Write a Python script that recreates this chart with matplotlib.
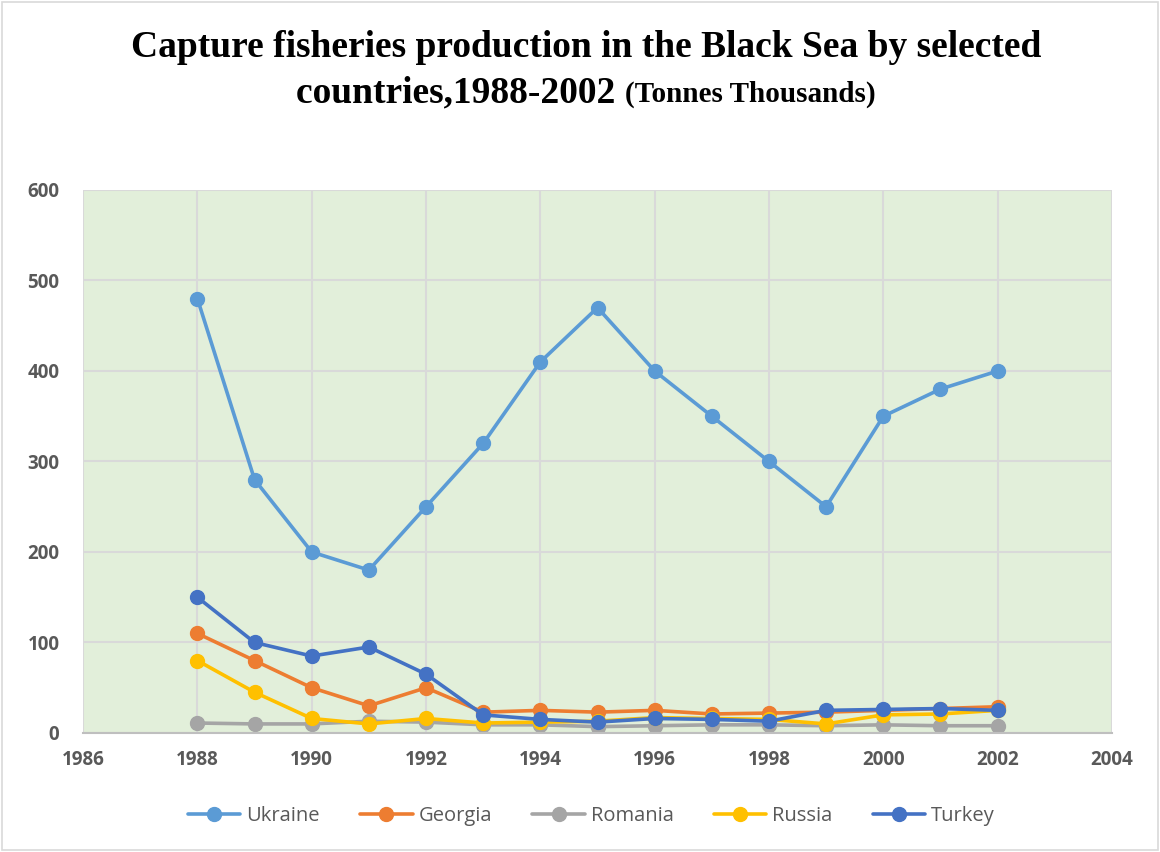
import matplotlib.pyplot as plt
import numpy as np

years = np.arange(1988, 2003)
ukraine = [480, 280, 200, 180, 250, 320, 410, 470, 400, 350, 300, 250, 350, 380, 400]
georgia = [110, 80, 50, 30, 50, 23, 25, 23, 25, 21, 22, 23, 25, 27, 29]
romania = [11, 10, 10, 13, 12, 9, 9, 7, 8, 9, 9, 8, 9, 8, 8]
russia = [80, 45, 16, 10, 16, 11, 12, 13, 17, 16, 15, 10, 20, 21, 25]
turkey = [150, 100, 85, 95, 65, 20, 15, 12, 16, 15, 13, 25, 26, 27, 25]

series = [
    ("Ukraine", ukraine, "#5B9BD5"),
    ("Georgia", georgia, "#ED7D31"),
    ("Romania", romania, "#A5A5A5"),
    ("Russia", russia, "#FFC000"),
    ("Turkey", turkey, "#4472C4"),
]

fig = plt.figure(figsize=(11.6, 8.52), dpi=100)
fig.patches.append(plt.Rectangle((0.002, 0.002), 0.996, 0.996, transform=fig.transFigure,
                                 fill=False, edgecolor="#D9D9D9", linewidth=1.2))
ax = fig.add_axes([0.0716, 0.1397, 0.887, 0.6373])
ax.set_facecolor("#E2EFDA")

for name, vals, col in series:
    ax.plot(years, vals, color=col, linewidth=2.6, marker="o", markersize=10,
            label=name, solid_capstyle="round")

ax.set_xlim(1986, 2004)
ax.set_ylim(0, 600)
ax.set_xticks(np.arange(1986, 2005, 2))
ax.set_yticks(np.arange(0, 601, 100))
ax.grid(color="#D9D9D9", linewidth=1.5)
ax.set_axisbelow(True)
for s in ["top", "right", "left"]:
    ax.spines[s].set_visible(False)
ax.spines["bottom"].set_color("#BFBFBF")
ax.spines["bottom"].set_linewidth(1.5)
ax.tick_params(length=0, labelsize=13.5, labelcolor="#595959", pad=12)
for lab in ax.get_xticklabels() + ax.get_yticklabels():
    lab.set_fontweight("bold")
    lab.set_family("Open Sans")
ax.tick_params(axis="y", pad=17)

leg = fig.legend(loc="center", bbox_to_anchor=(0.51, 0.042), ncol=5, frameon=False,
                 handlelength=2.6, columnspacing=2.0, handletextpad=0.3,
                 prop={"family": "Open Sans", "size": 14.5})
for t in leg.get_texts():
    t.set_color("#595959")

# two-line title, second line mixes two sizes
fig.text(0.505, 0.944, "Capture fisheries production in the Black Sea by selected",
         ha="center", va="center", fontsize=27, fontweight="bold", family="Liberation Serif")
renderer = fig.canvas.get_renderer()
t1 = fig.text(0, 0.891, "countries,1988-2002 ", ha="left", va="center", fontsize=27,
              fontweight="bold", family="Liberation Serif")
t2 = fig.text(0, 0.889, "(Tonnes Thousands)", ha="left", va="center", fontsize=21,
              fontweight="bold", family="Liberation Serif")
w1 = t1.get_window_extent(renderer).width / fig.bbox.width
w2 = t2.get_window_extent(renderer).width / fig.bbox.width
x0 = 0.505 - (w1 + w2) / 2
t1.set_x(x0)
t2.set_x(x0 + w1)

fig.savefig("out.png", dpi=100)
